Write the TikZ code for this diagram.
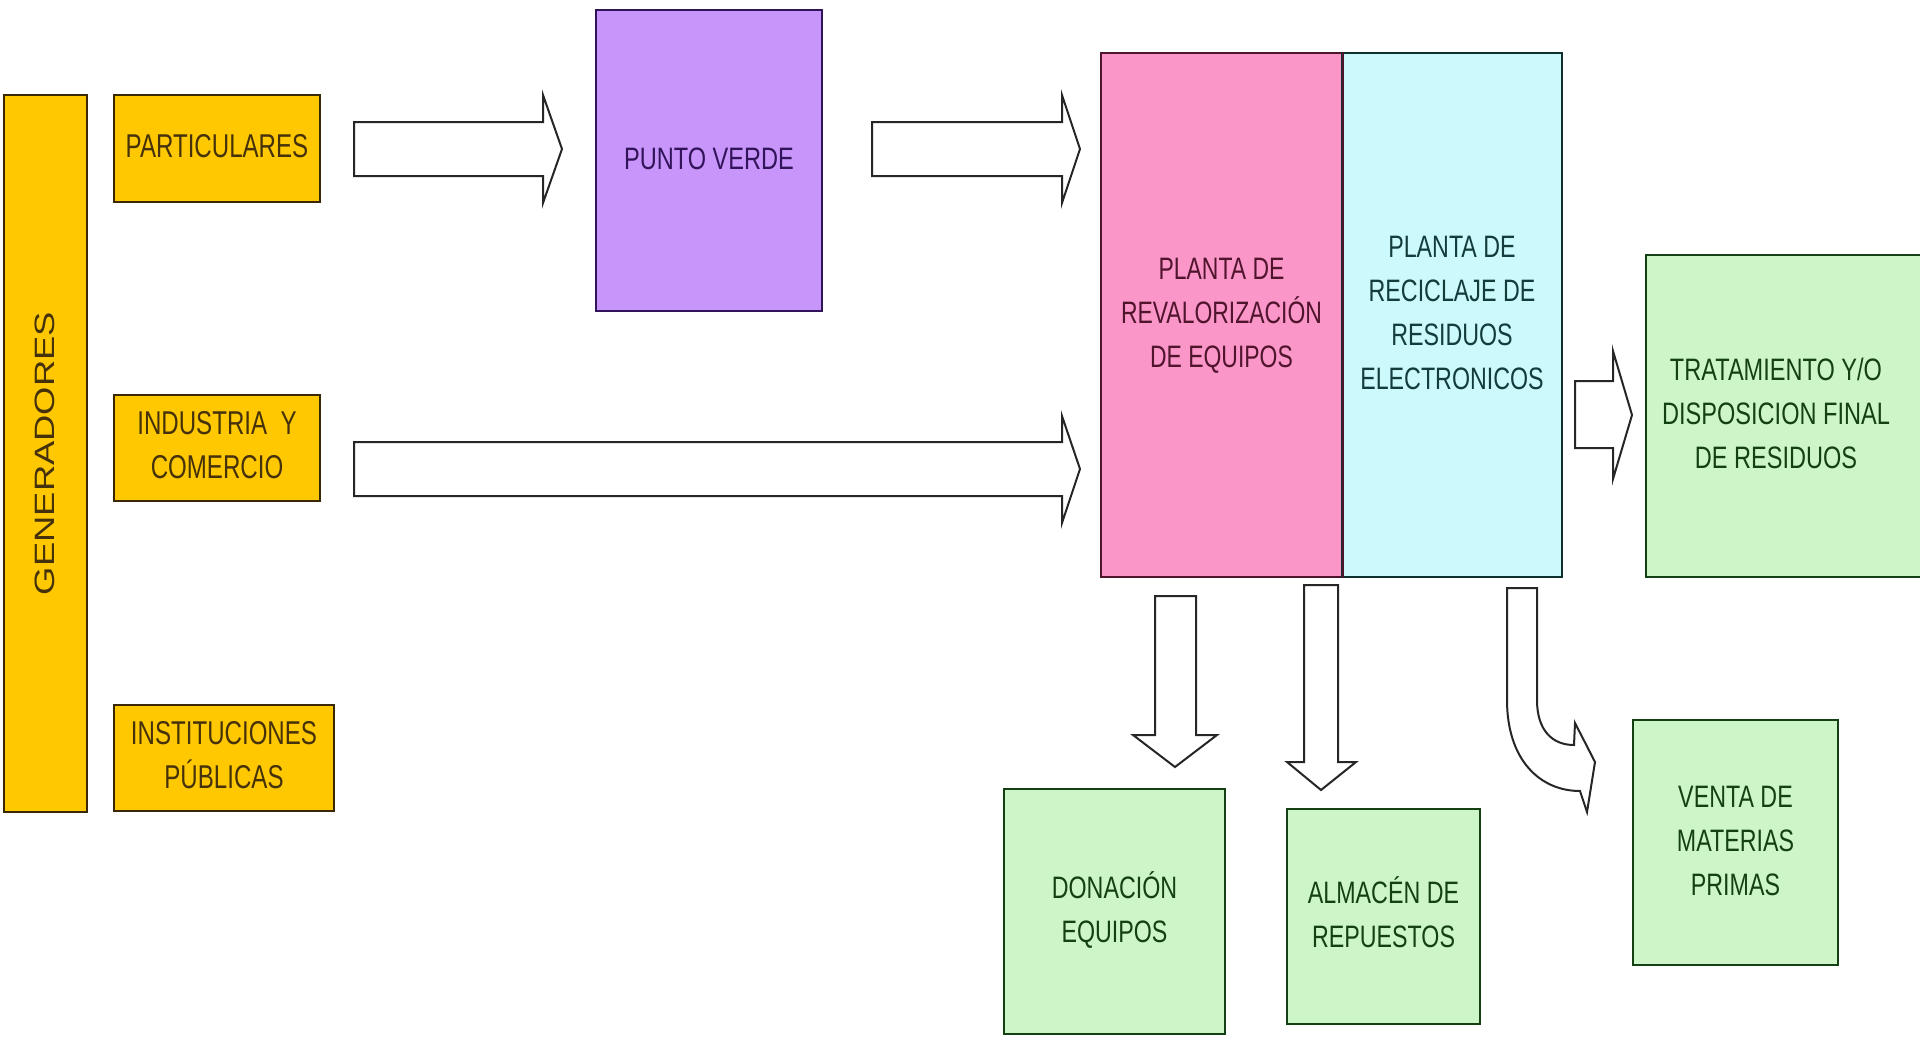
\documentclass[tikz,border=0pt]{standalone}
\usepackage{fontspec}
\setmainfont{Liberation Sans}
\usepackage{graphicx}
\newcommand\lbl[3]{\scalebox{#1}[1]{\fontsize{#2}{44}\selectfont\begin{tabular}{@{}c@{}}#3\end{tabular}}}
\definecolor{orangeF}{RGB}{255,200,0}
\definecolor{orangeD}{RGB}{70,50,10}
\definecolor{purpleF}{RGB}{200,150,250}
\definecolor{purpleD}{RGB}{50,20,90}
\definecolor{pinkF}{RGB}{250,150,200}
\definecolor{pinkD}{RGB}{80,20,45}
\definecolor{cyanF}{RGB}{204,250,252}
\definecolor{cyanD}{RGB}{20,60,60}
\definecolor{greenF}{RGB}{205,245,200}
\definecolor{greenD}{RGB}{20,65,20}
\tikzset{
  box/.style={draw, line width=2pt, inner sep=0pt, anchor=north west},
  obox/.style={box, fill=orangeF, draw=orangeD!80!black, text=orangeD},
  gbox/.style={box, fill=greenF, draw=greenD, text=greenD},
  barrow/.style={draw=black!85, fill=white, line width=2pt, line join=miter},
}
\begin{document}
\begin{tikzpicture}[x=1pt, y=-1pt]
\useasboundingbox (0,0) rectangle (1920,1039);
% generators
\node[obox, minimum width=83pt, minimum height=717pt] (gen) at (3,94) {\rotatebox{90}{\lbl{1.3}{28}{GENERADORES}}};
\node[obox, minimum width=206pt, minimum height=107pt] (part) at (113,94) {\lbl{0.73}{33}{PARTICULARES}};
\node[obox, minimum width=206pt, minimum height=106pt] (ind) at (113,394) {\lbl{0.73}{33}{INDUSTRIA\ \ Y\\COMERCIO}};
\node[obox, minimum width=220pt, minimum height=106pt] (inst) at (113,704) {\lbl{0.73}{33}{INSTITUCIONES\\PÚBLICAS}};
% punto verde
\node[box, fill=purpleF, draw=purpleD, text=purpleD, minimum width=226pt, minimum height=301pt] (pv) at (595,9) {\lbl{0.76}{31}{PUNTO VERDE}};
% plants
\node[box, fill=pinkF, draw=pinkD, text=pinkD, minimum width=241pt, minimum height=524pt] (rev) at (1100,52) {\lbl{0.74}{31}{PLANTA DE\\REVALORIZACIÓN\\DE EQUIPOS}};
\node[box, fill=cyanF, draw=cyanD!80!black, text=cyanD, minimum width=220pt, minimum height=524pt] (rec) at (1341,52) {\lbl{0.75}{31}{PLANTA DE\\RECICLAJE DE\\RESIDUOS\\ELECTRONICOS}};
\draw[pinkD, line width=2pt] (rev.north east) -- (rev.south east);
% outputs
\node[gbox, minimum width=290pt, minimum height=322pt] (trat) at (1645,254) {\hspace*{-15pt}\lbl{0.76}{31}{TRATAMIENTO Y/O\\DISPOSICION FINAL\\DE RESIDUOS}\hspace*{15pt}};
\node[gbox, minimum width=221pt, minimum height=245pt] (don) at (1003,788) {\lbl{0.75}{31}{DONACIÓN\\EQUIPOS}};
\node[gbox, minimum width=193pt, minimum height=215pt] (alm) at (1286,808) {\lbl{0.75}{31}{ALMACÉN DE\\REPUESTOS}};
\node[gbox, minimum width=205pt, minimum height=245pt] (ven) at (1632,719) {\lbl{0.75}{31}{VENTA DE\\MATERIAS\\PRIMAS}};
% block arrows
\draw[barrow] (354,122) -- (543,122) -- (543,95) -- (562,149) -- (543,203) -- (543,176) -- (354,176) -- cycle;
\draw[barrow] (872,122) -- (1062,122) -- (1062,95) -- (1080,149) -- (1062,203) -- (1062,176) -- (872,176) -- cycle;
\draw[barrow] (354,442) -- (1062,442) -- (1062,416) -- (1080,469) -- (1062,523) -- (1062,496) -- (354,496) -- cycle;
\draw[barrow] (1575,381) -- (1613,381) -- (1613,351) -- (1632,415) -- (1613,479) -- (1613,448) -- (1575,448) -- cycle;
\draw[barrow] (1155,596) -- (1196,596) -- (1196,735) -- (1217,735) -- (1175,767) -- (1133,735) -- (1155,735) -- cycle;
\draw[barrow] (1304,585) -- (1338,585) -- (1338,762) -- (1356,762) -- (1321,790) -- (1287,762) -- (1304,762) -- cycle;
\draw[barrow] (1507,588) -- (1507,700) .. controls (1507,760) and (1540,791) .. (1580,791) -- (1587,812) -- (1595,762) -- (1575,723) -- (1574,745) .. controls (1552,745) and (1537,730) .. (1537,700) -- (1537,588) -- cycle;
\end{tikzpicture}
\end{document}
